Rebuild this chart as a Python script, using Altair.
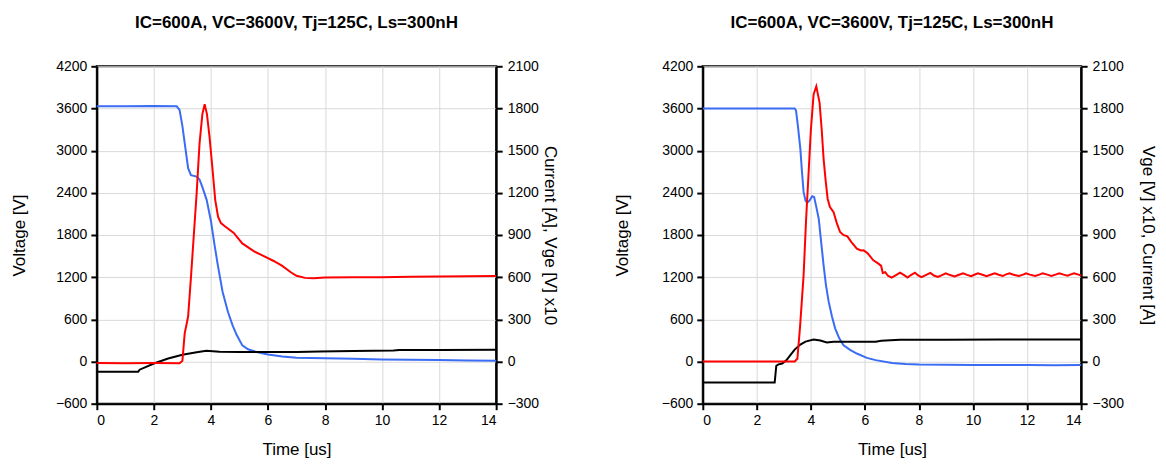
import altair as alt
import pandas as pd

# ---------------- Left panel data ----------------
# Voltage (blue, left axis) [V]
tA_v = [0, 1, 2, 2.8, 2.9, 3.0, 3.1, 3.2, 3.3, 3.5, 3.6, 3.7, 3.85, 4.0, 4.13, 4.25, 4.41,
        4.6, 4.76, 4.9, 5.1, 5.3, 5.6, 6.0, 6.5, 7, 8, 9, 10, 11, 12, 13, 14]
vA_v = [3630, 3630, 3635, 3630, 3580, 3350, 3050, 2750, 2650, 2630, 2590, 2480, 2300, 2000, 1650,
        1350, 990, 700, 515, 380, 230, 175, 135, 100, 70, 55, 45, 40, 30, 25, 20, 15, 10]
# Current (red, right axis) [A]
tA_i = [0, 1, 2, 2.9, 3.0, 3.08, 3.2, 3.3, 3.4, 3.5, 3.6, 3.7, 3.78, 3.86, 3.95, 4.05, 4.15,
        4.25, 4.35, 4.5, 4.8, 5.1, 5.5, 5.8, 6.2, 6.5, 6.8, 7.0, 7.3, 7.6, 8, 9, 10, 11, 12, 13, 14]
iA_i = [-10, -12, -10, -12, 5, 200, 320, 600, 900, 1200, 1550, 1760, 1830, 1760, 1600, 1380, 1150,
        1030, 985, 960, 915, 840, 785, 755, 715, 680, 635, 610, 595, 592, 597, 600, 600, 603, 604, 606, 608]
# Vge x10 (black, right axis)
tA_g = [0, 1.45, 1.5, 2.0, 2.5, 3.0, 3.5, 3.84, 4.3, 5, 6, 7, 7.8, 9, 10.4, 10.6, 12, 14]
gA_g = [-73, -73, -58, -14, 21, 48, 66, 76, 69, 68, 68, 68, 72, 75, 78, 82, 82, 84]

# ---------------- Right panel data ----------------
tB_v = [0, 3.4, 3.45, 3.52, 3.61, 3.67, 3.73, 3.8, 3.86, 3.95, 4.05, 4.12, 4.2, 4.29, 4.38, 4.47,
        4.56, 4.66, 4.78, 4.9, 5.05, 5.21, 5.45, 5.7, 6.07, 6.4, 7, 7.5, 8, 10, 12, 13, 14]
vB_v = [3600, 3600, 3570, 3350, 3025, 2700, 2413, 2290, 2258, 2290, 2350, 2340, 2200, 2031, 1700,
        1368, 1080, 848, 640, 469, 330, 232, 165, 114, 52, 20, -20, -35, -42, -48, -50, -52, -50]
tB_i = [0, 3.4, 3.5, 3.6, 3.73, 3.82, 3.91, 4.0, 4.1, 4.2, 4.32, 4.4, 4.47, 4.55, 4.62, 4.7, 4.84,
        4.95, 5.08, 5.2, 5.35, 5.5, 5.7, 5.85, 5.95, 6.1, 6.31, 6.5, 6.6, 6.66, 6.75, 6.85, 6.99,
        7.15, 7.3, 7.45, 7.58, 7.7, 7.85, 7.97, 8.09, 8.25, 8.42, 8.55, 8.7, 8.85, 8.99, 9.15,
        9.32, 9.48, 9.63, 9.78, 9.93, 10.05, 10.18, 10.35, 10.5, 10.65, 10.8, 10.95, 11.1, 11.2,
        11.35, 11.5, 11.7, 11.85, 11.96, 12.1, 12.3, 12.45, 12.58, 12.75, 12.9, 13.05, 13.19,
        13.35, 13.5, 13.62, 13.74, 13.9, 14]
iB_i = [0, 0, 20, 250, 613, 1000, 1323, 1650, 1900, 1958, 1844, 1650, 1442, 1280, 1158, 1100, 1063,
        990, 921, 900, 890, 850, 803, 790, 791, 770, 720, 696, 680, 630, 635, 610, 597,
        615, 632, 615, 597, 615, 632, 612, 600, 615, 630, 612, 602, 615, 628, 615,
        605, 617, 628, 616, 607, 617, 627, 617, 607, 617, 627, 617, 608, 618,
        627, 617, 608, 618, 627, 618, 609, 618, 627, 618, 609, 618, 628,
        618, 610, 620, 628, 618, 612]
tB_g = [0, 2.66, 2.72, 2.8, 2.94, 3.1, 3.24, 3.4, 3.61, 3.8, 4.1, 4.35, 4.59, 4.84, 5.5, 6.4,
        6.6, 7.3, 9, 11, 14]
gB_g = [-150, -150, -30, -20, -14, 10, 45, 85, 121, 142, 156, 150, 135, 140, 140, 141,
        148, 155, 155, 157, 157]

title_text = "IC=600A, VC=3600V, Tj=125C, Ls=300nH"
x_ticks = [0, 2, 4, 6, 8, 10, 12, 14]
yl_ticks = [-600, 0, 600, 1200, 1800, 2400, 3000, 3600, 4200]
yr_ticks = [-300, 0, 300, 600, 900, 1200, 1500, 1800, 2100]

FONT = "Liberation Sans"


def panel(tv, vv, ti, iv, tg, gv, right_title, width, lpad, rpad):
    dv = pd.DataFrame({"t": tv, "val": vv})
    di = pd.DataFrame({"t": ti, "val": iv})
    dg = pd.DataFrame({"t": tg, "val": gv})
    x = alt.X("t:Q", scale=alt.Scale(domain=[0, 14], nice=False, zero=False),
              axis=alt.Axis(title="Time [us]", values=x_ticks, grid=True, format="d",
                            titlePadding=14))
    yl = alt.Y("val:Q", scale=alt.Scale(domain=[-600, 4200], nice=False, zero=False),
               axis=alt.Axis(title="Voltage [V]", values=yl_ticks, grid=True, format="d",
                             titlePadding=lpad))
    yr = alt.Y("val:Q", scale=alt.Scale(domain=[-300, 2100], nice=False, zero=False),
               axis=alt.Axis(title=right_title, orient="right", values=yr_ticks, grid=False,
                             format="d", titlePadding=rpad, labelPadding=5))
    blue = alt.Chart(dv).mark_line(color="#3a6cf4", strokeWidth=2).encode(x=x, y=yl)
    black = alt.Chart(dg).mark_line(color="#000000", strokeWidth=2).encode(x=x, y=yr)
    red = alt.Chart(di).mark_line(color="#ff0000", strokeWidth=2).encode(x=x, y=yr)
    return alt.layer(blue, alt.layer(black, red)).resolve_scale(y="independent").properties(
        width=width, height=338,
        title=alt.TitleParams(text=title_text, anchor="middle", offset=27,
                              font=FONT, fontSize=17, fontWeight="bold", color="black"),
    )


left = panel(tA_v, vA_v, tA_i, iA_i, tA_g, gA_g, "Current [A], Vge [V] x10", 400, 27, 2)
right = panel(tB_v, vB_v, tB_i, iB_i, tB_g, gB_g, "Vge [V] x10, Current [A]", 379, 30, 15)

chart = alt.hconcat(
    left, right, spacing=52, background="white",
    padding={"left": 1, "top": 5, "right": 0, "bottom": 0},
).configure_axis(
    domainColor="black", domainWidth=2, tickColor="black", tickWidth=2, tickSize=6,
    labelFont=FONT, labelFontSize=14, labelColor="black", labelPadding=4,
    titleFont=FONT, titleFontSize=17, titleFontWeight="normal", titleColor="black",
    gridColor="#d9d9d9", gridWidth=1,
).configure_view(stroke="black", strokeWidth=2)

chart.save("out.html", embed_options={"renderer": "svg", "actions": False})
